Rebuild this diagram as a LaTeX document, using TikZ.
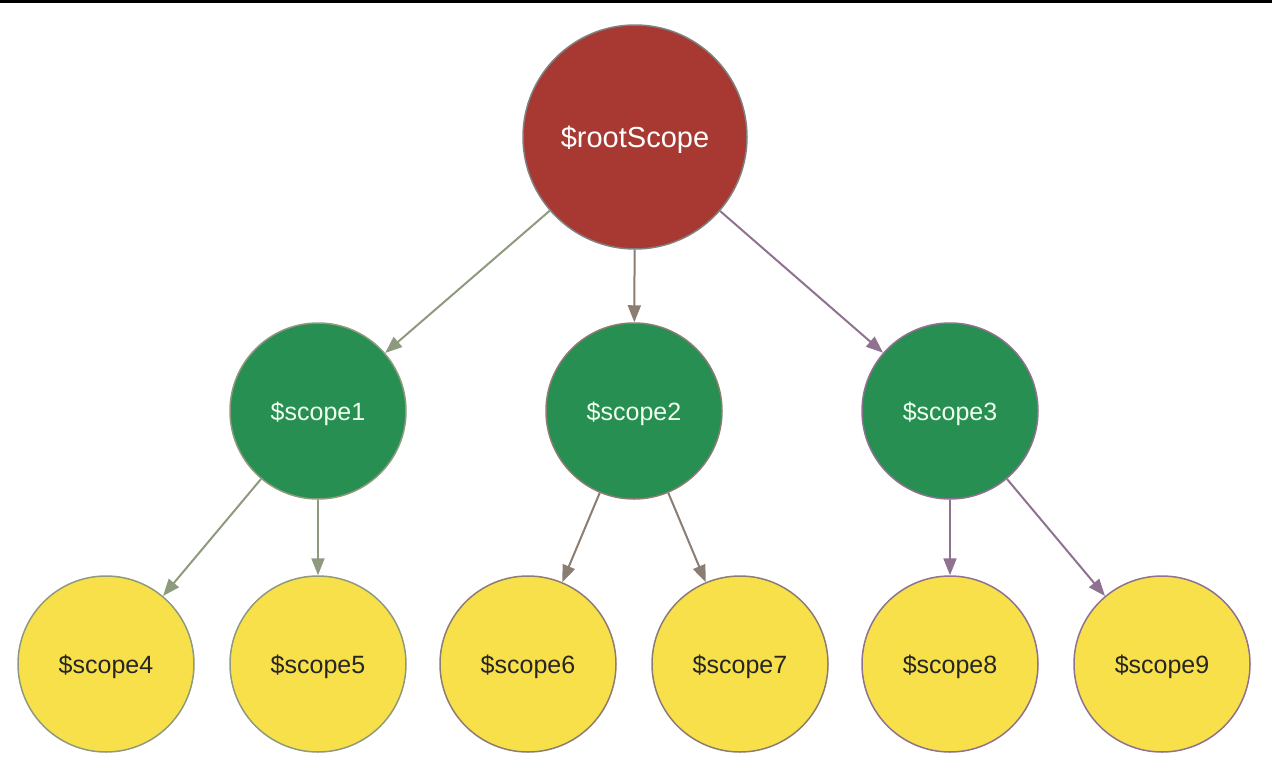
\documentclass[tikz,border=0pt]{standalone}
\usepackage{fontspec}
\setmainfont{Liberation Sans}
\definecolor{RootRed}{HTML}{A83832}
\definecolor{ScopeGreen}{HTML}{268F51}
\definecolor{LeafYellow}{HTML}{F8E04A}
\definecolor{EdgeSage}{HTML}{8E9A7E}
\definecolor{EdgeTaupe}{HTML}{8C7D72}
\definecolor{EdgeMauve}{HTML}{8E7290}
\usetikzlibrary{arrows.meta}

\begin{document}
\begin{tikzpicture}[x=1pt,y=-1pt,>={Triangle[length=17pt,width=13pt]},
    every node/.style={circle,draw,line width=1.5pt,inner sep=0pt,text depth=0pt,minimum size=176pt},
    root/.style={fill=RootRed,draw=gray,minimum size=224pt,text=white,font=\fontsize{29}{34}\selectfont},
    mid/.style={fill=ScopeGreen,text=green!6,font=\fontsize{25}{30}\selectfont},
    leaf/.style={fill=LeafYellow,text=black!85,font=\fontsize{25}{30}\selectfont}]
      \useasboundingbox (0,0) rectangle (1272,777);
      \draw[line width=3pt] (0,1.5) -- (1272,1.5);
      \node[root] (r) at (635,137) {\$rootScope};
      \node[mid,draw=EdgeSage] (s1) at (318,411) {\$scope1};
      \node[mid,draw=EdgeTaupe] (s2) at (634,411) {\$scope2};
      \node[mid,draw=EdgeMauve] (s3) at (950,411) {\$scope3};
      \node[leaf,draw=EdgeSage] (s4) at (106,664) {\$scope4};
      \node[leaf,draw=EdgeSage] (s5) at (318,664) {\$scope5};
      \node[leaf,draw=EdgeTaupe] (s6) at (528,664) {\$scope6};
      \node[leaf,draw=EdgeTaupe] (s7) at (740,664) {\$scope7};
      \node[leaf,draw=EdgeMauve] (s8) at (950,664) {\$scope8};
      \node[leaf,draw=EdgeMauve] (s9) at (1162,664) {\$scope9};
      \draw[->,line width=2pt,EdgeSage] (r)--(s1);
      \draw[->,line width=2pt,EdgeTaupe] (r)--(s2);
      \draw[->,line width=2pt,EdgeMauve] (r)--(s3);
      \draw[->,line width=2pt,EdgeSage] (s1)--(s4);
      \draw[->,line width=2pt,EdgeSage] (s1)--(s5);
      \draw[->,line width=2pt,EdgeTaupe] (s2)--(s6);
      \draw[->,line width=2pt,EdgeTaupe] (s2)--(s7);
      \draw[->,line width=2pt,EdgeMauve] (s3)--(s8);
      \draw[->,line width=2pt,EdgeMauve] (s3)--(s9);
    \end{tikzpicture}
\end{document}
